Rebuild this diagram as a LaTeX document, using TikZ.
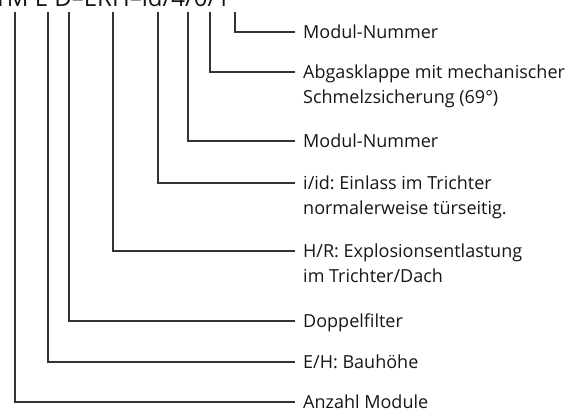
\documentclass[tikz,border=0pt]{standalone}
\usepackage{fontspec}
\setmainfont{Open Sans}
\usetikzlibrary{calc}
\frenchspacing
\definecolor{textc}{HTML}{161616}
\definecolor{linec}{HTML}{333333}
\begin{document}
\begin{tikzpicture}[x=1pt,y=-1pt,
  lbl/.style={anchor=north west, inner sep=0pt, align=left, font=\fontsize{18}{25}\selectfont, text=textc},
  conn/.style={draw=linec, line width=1.1pt}]
\useasboundingbox (0,0) rectangle (580,412);
\node[anchor=base west, inner sep=0pt, font=\fontsize{24}{28}\selectfont, text=textc] (code) at (-7,7) {1M E D–ERH–id/4/0/1};
% line tops
\coordinate (v1) at (15,12);
\coordinate (v2) at (48,12);
\coordinate (v3) at (69,12);
\coordinate (v4) at (113,12);
\coordinate (v5) at (158,12);
\coordinate (v6) at (188,12);
\coordinate (v7) at (210,12);
\coordinate (v8) at (235,12);
% labels
\node[lbl] (l8) at (303,25) {Modul-Nummer};
\node[lbl] (l7) at (303,65) {Abgasklappe mit mechanischer\\Schmelzsicherung (69°)};
\node[lbl] (l6) at (303,134) {Modul-Nummer};
\node[lbl] (l5) at (303,176) {i/id: Einlass im Trichter\\normalerweise türseitig.};
\node[lbl] (l4) at (303,244) {H/R: Explosionsentlastung\\im Trichter/Dach};
\node[lbl] (l3) at (303,314) {Doppelfilter};
\node[lbl] (l2) at (303,355) {E/H: Bauhöhe};
\node[lbl] (l1) at (303,395) {Anzahl Module};
% connectors
\foreach \i in {1,...,8}{
  \draw[conn] (v\i) |- ($(l\i.north west)+(-8,7)$);
}
\end{tikzpicture}
\end{document}
